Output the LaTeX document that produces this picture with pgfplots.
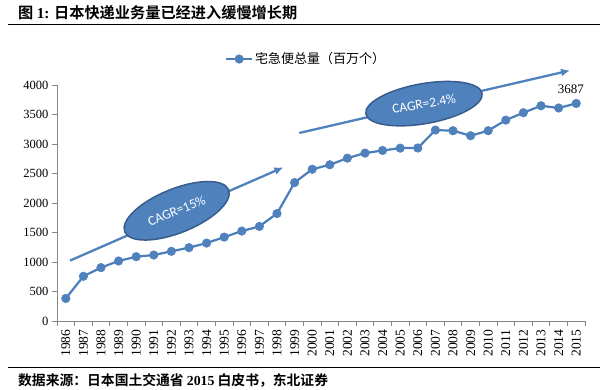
\documentclass[border=0pt]{standalone}
\usepackage{fontspec}
\setmainfont{Liberation Serif}
\newfontfamily\cjk{Noto Sans CJK SC}
\newfontfamily\cjkb{Noto Sans CJK SC Bold}
\newfontfamily\carlito{Carlito}
\usepackage{pgfplots}
\pgfplotsset{compat=1.18}
\usetikzlibrary{arrows.meta,shapes.geometric}
\definecolor{exblue}{HTML}{4F81BD}
\definecolor{exline}{HTML}{4A7EBB}
\definecolor{exdark}{HTML}{385D8A}
\definecolor{axgray}{HTML}{868686}
\begin{document}
\begin{tikzpicture}
\useasboundingbox (0,0) rectangle (606pt,390pt);
\node[anchor=west,inner sep=0pt] at (18pt,377pt) {\fontsize{15.2}{16}\selectfont\cjkb 图 {\rmfamily\bfseries 1:} 日本快递业务量已经进入缓慢增长期};
\draw[line width=1pt] (8pt,365pt)--(600pt,365pt);
\draw[line width=1pt] (8pt,22pt)--(600pt,22pt);
\node[anchor=west,inner sep=0pt] at (18pt,9pt) {\fontsize{13.8}{14}\selectfont\cjkb 数据来源：日本国土交通省 {\rmfamily\bfseries 2015} 白皮书，东北证券};
\begin{axis}[
  at={(57pt,69pt)}, anchor=south west,
  scale only axis, width=528pt, height=236pt,
  xmin=-0.5, xmax=29.5, ymin=0, ymax=4000,
  clip=false,
  axis x line*=bottom, axis y line*=left,
  axis line style={-, axgray, line width=0.8pt},
  xtick={0,...,29},
  xticklabels={1986,1987,1988,1989,1990,1991,1992,1993,1994,1995,1996,1997,1998,1999,2000,2001,2002,2003,2004,2005,2006,2007,2008,2009,2010,2011,2012,2013,2014,2015},
  major x tick style={draw=none},
  minor xtick={-0.5,0.5,...,29.5},
  minor x tick style={axgray, line width=0.8pt},
  minor tick length=5pt,
  ytick={0,500,...,4000},
  y tick style={axgray, line width=0.8pt},
  major tick length=5pt,
  tick align=outside,
  xticklabel style={rotate=90, anchor=east, font=\fontsize{13.5}{14}\selectfont},
  yticklabel style={font=\fontsize{12.5}{13}\selectfont},
  /pgf/number format/assume math mode=true,
  /pgf/number format/set thousands separator={},
  legend style={at={(0.472,1.11)}, anchor=center, draw=none, fill=none,
    font=\fontsize{13}{14}\selectfont\cjk, inner sep=1pt},
  legend image code/.code={\draw[mark repeat=2,mark phase=2] plot coordinates {(0cm,0cm)(0.45cm,0cm)(0.9cm,0cm)};},
]
\addplot[exline, line width=2.2pt, mark=*, mark size=4.3pt, mark options={fill=exblue, draw=exblue, line width=0.5pt}]
coordinates {
(0,382)(1,758)(2,905)(3,1017)(4,1090)(5,1118)(6,1181)(7,1243)(8,1321)(9,1422)
(10,1524)(11,1603)(12,1822)(13,2346)(14,2572)(15,2648)(16,2760)(17,2846)(18,2890)(19,2930)
(20,2932)(21,3236)(22,3225)(23,3140)(24,3225)(25,3405)(26,3530)(27,3648)(28,3610)(29,3687)
};
\addlegendentry{宅急便总量（百万个）}
\draw[exblue, line width=2.3pt, -{Latex[length=9pt,width=8pt]}] (axis cs:0.24,1024) -- (axis cs:12.36,2604);
\draw[exblue, line width=2.3pt, -{Latex[length=9pt,width=8pt]}] (axis cs:13.27,3187) -- (axis cs:28.65,4246);
\node[ellipse, fill=exblue, draw=exdark, line width=1.5pt, minimum width=112pt, minimum height=44pt, rotate=22, text=white, font=\fontsize{13.5}{14}\selectfont\carlito, inner sep=0pt] at (axis cs:6.3,1868) {CAGR=15\%};
\node[ellipse, fill=exblue, draw=exdark, line width=1.5pt, minimum width=118pt, minimum height=40pt, rotate=10, text=white, font=\fontsize{13.5}{14}\selectfont\carlito, inner sep=0pt] at (axis cs:20.35,3684) {CAGR=2.4\%};
\node[font=\fontsize{13}{14}\selectfont, anchor=south] at (axis cs:28.7,3790) {3687};
\end{axis}
\end{tikzpicture}
\end{document}
